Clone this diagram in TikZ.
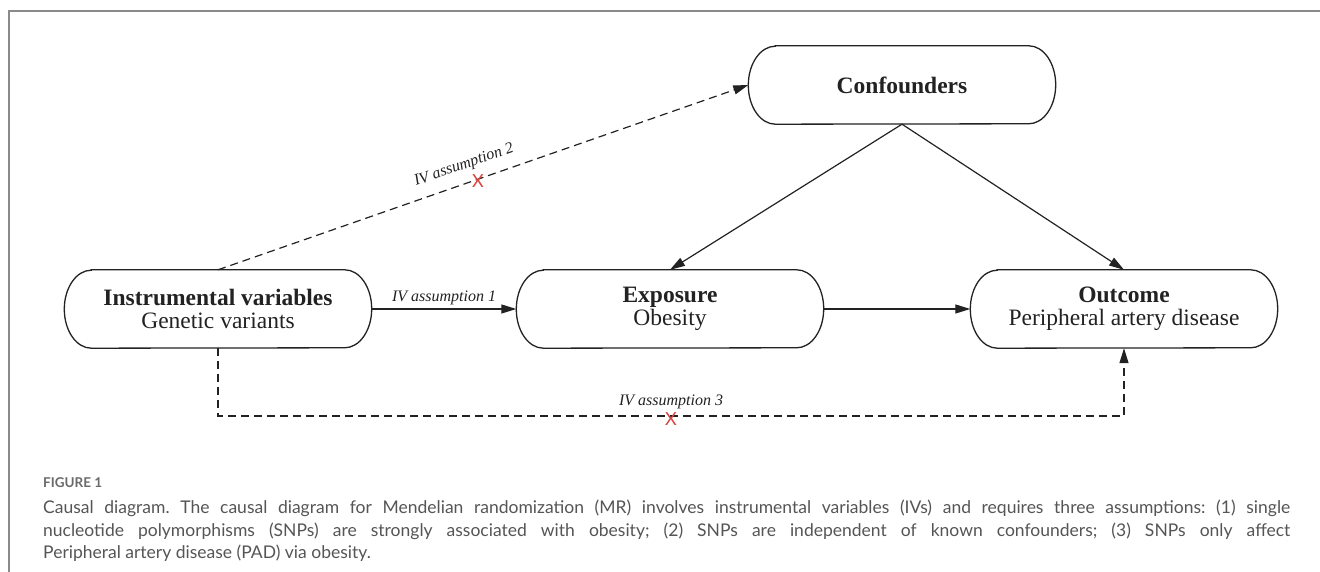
\documentclass[tikz,border=0pt]{standalone}
\usepackage{fontspec}
\setmainfont{Liberation Serif}
\newfontfamily\capfont{Lato}
\usetikzlibrary{arrows.meta,calc}
\definecolor{ink}{HTML}{222222}
\definecolor{xred}{HTML}{D9443C}
\definecolor{capgray}{HTML}{555555}
\definecolor{figgray}{HTML}{6A6A6A}
\definecolor{framegray}{HTML}{8A8A8A}
\frenchspacing
\begin{document}
\begin{tikzpicture}[x=1pt,y=1pt,
  box/.style={minimum width=307pt,minimum height=78pt,inner sep=0pt,align=center,text=ink,
    font=\fontsize{23.5}{23}\selectfont},
  arr/.style={draw=ink,line width=1.2pt,-{Triangle[length=15pt,width=9pt]}},
  dsh/.style={arr,dash pattern=on 8pt off 5pt},
  lab/.style={font=\fontsize{16}{16}\selectfont\itshape,text=ink,inner sep=2pt},
  cross/.style={text=xred,font=\capfont\fontsize{18}{18}\selectfont,inner sep=0pt},
  captext/.style={anchor=base west,inner sep=0pt,text=capgray,font=\capfont\fontsize{17.5}{17.5}\selectfont}
]
\useasboundingbox (0,0) rectangle (1320,572);
% frame
\draw[framegray,line width=1.3pt] (9,0) -- (9,561) -- (1320,561);

% nodes
\node[box] (conf) at (902,487) {\textbf{Confounders}};
\node[box] (iv) at (218,263) {\textbf{Instrumental variables}\\Genetic variants};
\node[box] (ex) at (670,263) {\textbf{Exposure}\\Obesity};
\node[box] (out) at (1124,263) {\textbf{Outcome}\\Peripheral artery disease};

\foreach \n in {conf,iv,ex,out}{
  \draw[ink,line width=1.3pt]
    ([xshift=27pt]\n.north west) -- ([xshift=-27pt]\n.north east)
    arc[start angle=90,end angle=-90,x radius=27pt,y radius=39pt]
    -- ([xshift=27pt]\n.south west)
    arc[start angle=270,end angle=90,x radius=27pt,y radius=39pt] -- cycle;
}

% connectors
\draw[arr] (iv.east) -- node[lab,above=1pt] (l1) {IV assumption 1} (ex.west);
\draw[arr] (ex.east) -- (out.west);
\draw[arr] (conf.south) -- (ex.north);
\draw[arr] (conf.south) -- (out.north);
\draw[dsh] (iv.north) -- node[lab,sloped,above=8pt,pos=0.475] (l2) {IV assumption 2}
  node[cross,pos=0.49,yshift=-2pt] (x2) {X} (conf.west);
\coordinate (b1) at (218,156);
\coordinate (b2) at (1124,156);
\draw[dsh] (iv.south) -- (b1) -- node[lab,above=4pt] (l3) {IV assumption 3}
  node[cross,yshift=-3pt] (x3) {X} (b2) -- (out.south);

% caption
\node[captext,text=figgray,font=\capfont\bfseries\fontsize{13.5}{13.5}\selectfont] (fig) at (43,84) {FIGURE 1};
\node[captext] (c1) at (43,58) {\makebox[1247pt][s]{Causal diagram. The causal diagram for Mendelian randomization (MR) involves instrumental variables (IVs) and requires three assumptions: (1) single}};
\node[captext] (c2) at (43,35) {\makebox[1247pt][s]{nucleotide polymorphisms (SNPs) are strongly associated with obesity; (2) SNPs are independent of known confounders; (3) SNPs only affect}};
\node[captext] (c3) at (43,13) {Peripheral artery disease (PAD) via obesity.};
\end{tikzpicture}
\end{document}
